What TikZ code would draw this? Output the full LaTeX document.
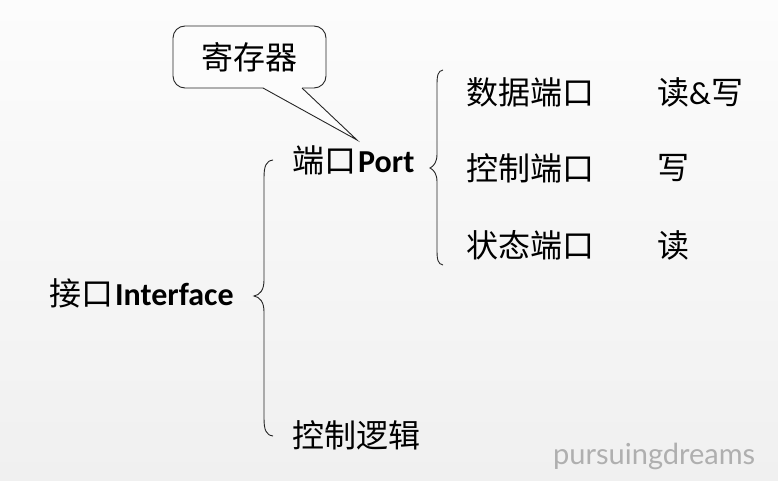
\documentclass[tikz,border=0pt]{standalone}
\usepackage{fontspec}
\setmainfont{Carlito}
\newfontfamily\cjk{Noto Sans CJK SC}
\newfontfamily\wmfont{Lato}
\definecolor{bgtop}{RGB}{252,252,252}
\definecolor{bgbot}{RGB}{240,240,240}
\definecolor{wmgray}{RGB}{175,175,175}
\begin{document}
\begin{tikzpicture}[x=1pt,y=-1pt,
  lbl/.style={inner sep=0pt, anchor=west, font=\fontsize{32}{38}\selectfont},
  brace/.style={draw=black!85, line width=0.9pt},
  callout/.style={draw=black!85, line width=0.9pt}]
\shade[top color=bgtop, bottom color=bgbot] (0,0) rectangle (778,481);
\useasboundingbox (0,0) rectangle (778,481);

% texts
\node[lbl] (iface) at (49,293) {{\cjk 接口}\hspace{2pt}\textbf{Interface}};
\node[lbl] (port) at (292,160) {{\cjk 端口}\hspace{2pt}\textbf{Port}};
\node[lbl] (logic) at (292,435) {\cjk 控制逻辑};
\node[lbl] (data) at (466,92) {\cjk 数据端口};
\node[lbl] (ctrl) at (466,168) {\cjk 控制端口};
\node[lbl] (stat) at (466,245) {\cjk 状态端口};
\node[lbl] (rw) at (657,92) {{\cjk 读}\&{\cjk 写}};
\node[lbl] (w) at (657,168) {\cjk 写};
\node[lbl] (r) at (657,245) {\cjk 读};

% big brace
\coordinate (b1t) at (273,160);
\coordinate (b1m) at (254,296);
\coordinate (b1b) at (273,436);
\draw[brace] (b1t) .. controls (266,161) and (264,166) .. (264,178)
  -- (264,280) .. controls (264,290) and (260,295) .. (b1m)
  .. controls (260,297) and (264,302) .. (264,312)
  -- (264,418) .. controls (264,430) and (266,435) .. (b1b);

% small brace
\coordinate (b2t) at (443,70);
\coordinate (b2m) at (430,168);
\coordinate (b2b) at (443,265);
\draw[brace] (b2t) .. controls (438,71) and (437,75) .. (437,85)
  -- (437,154) .. controls (437,162) and (434,166) .. (b2m)
  .. controls (434,170) and (437,174) .. (437,182)
  -- (437,250) .. controls (437,260) and (438,264) .. (b2b);

% callout
\node[callout, rounded corners=12pt, fill=bgtop, minimum width=153pt, minimum height=62pt, inner sep=0pt] (regbox) at (249.5,57) {};
\node[inner sep=0pt, font=\fontsize{32}{38}\selectfont] (reg) at (regbox.center) {\cjk 寄存器};
\coordinate (pa) at (263,88);
\coordinate (pb) at (302,88);
\coordinate (tip) at (357,140);
\fill[bgtop] (263,86.8) -- (302,86.8) -- (303,89) -- (tip) -- (264,89) -- cycle;
\draw[callout] (pa) -- (tip) -- (pb);

% watermark
\node[inner sep=0pt, anchor=west, text=wmgray, font=\wmfont\fontsize{29}{34}\selectfont] (wm) at (553,456) {pursuingdreams};
\end{tikzpicture}
\end{document}
